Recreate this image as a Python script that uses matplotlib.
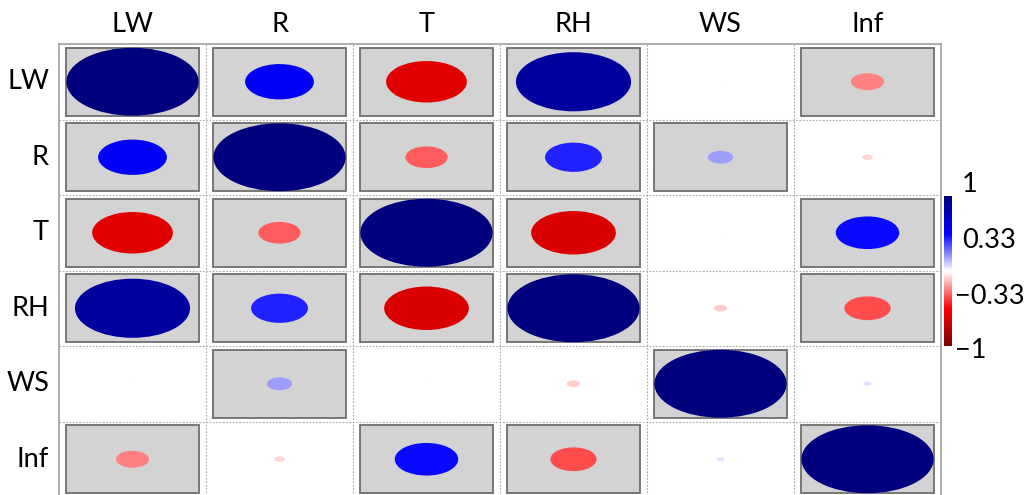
import numpy as np
import matplotlib
matplotlib.use("Agg")
import matplotlib.pyplot as plt
from matplotlib.patches import Ellipse, Rectangle
from matplotlib.colors import LinearSegmentedColormap, Normalize

plt.rcParams['font.family'] = ['Lato', 'DejaVu Sans']

# Variables and their correlation matrix
variables = ["LW", "R", "T", "RH", "WS", "Inf"]
corr = np.array([
    [ 1.00,  0.52, -0.61,  0.87,  0.02, -0.25],
    [ 0.52,  1.00, -0.32,  0.43,  0.19, -0.08],
    [-0.61, -0.32,  1.00, -0.64, -0.02,  0.48],
    [ 0.87,  0.43, -0.64,  1.00, -0.10, -0.35],
    [ 0.02,  0.19, -0.02, -0.10,  1.00,  0.06],
    [-0.25, -0.08,  0.48, -0.35,  0.06,  1.00],
])
# Significant pairs (shaded cells)
significant = np.array([
    [1, 1, 1, 1, 0, 1],
    [1, 1, 1, 1, 1, 0],
    [1, 1, 1, 1, 0, 1],
    [1, 1, 1, 1, 0, 1],
    [0, 1, 0, 0, 1, 0],
    [1, 0, 1, 1, 0, 1],
], dtype=bool)

cbar_ticks = [1, 0.33, -0.33, -1]
cbar_labels = ["1", "0.33", "\u22120.33", "\u22121"]

cmap = LinearSegmentedColormap.from_list(
    "corr", ["#7F0000", "#FF0000", "#FFFFFF", "#0000FF", "#00007F"])
norm = Normalize(-1, 1)

W, H = 1030, 495
fig = plt.figure(figsize=(W / 100, H / 100), dpi=100)
FS = 19.5

# grid area in pixels
x0, x1 = 59, 941
y0, y1 = 44, 497
ax = fig.add_axes([x0 / W, 1 - y1 / H, (x1 - x0) / W, (y1 - y0) / H])
n = len(variables)
ax.set_xlim(0, n)
ax.set_ylim(n, 0)
ax.set_xticks([])
ax.set_yticks([])
for s in ax.spines.values():
    s.set_color("#A0A0A0")
    s.set_linewidth(1.2)

# dotted cell separators
for k in range(1, n):
    ax.axvline(k, color="#A8A8A8", lw=0.8, ls=(0, (1.5, 1.5)), zorder=1)
    ax.axhline(k, color="#A8A8A8", lw=0.8, ls=(0, (1.5, 1.5)), zorder=1)

box = 0.9
for i in range(n):
    for j in range(n):
        cx, cy = j + 0.5, i + 0.5
        if significant[i, j]:
            ax.add_patch(Rectangle((cx - box / 2, cy - box / 2), box, box,
                                   facecolor="#D3D3D3", edgecolor="#6E6E6E",
                                   lw=1.3, zorder=2))
        r = corr[i, j]
        d = box * abs(r)
        ax.add_patch(Ellipse((cx, cy), d, d, facecolor=cmap(norm(r)),
                             edgecolor="none", zorder=3))

# axis labels
for j, name in enumerate(variables):
    fx = (x0 + (j + 0.5) * (x1 - x0) / n) / W
    fig.text(fx, 1 - 24 / H, name, ha="center", va="center", fontsize=FS)
for i, name in enumerate(variables):
    fy = 1 - (y0 + (i + 0.5) * (y1 - y0) / n) / H
    fig.text(49 / W, fy, name, ha="right", va="center", fontsize=FS)

# colour legend
cb_x0, cb_x1, cb_y0, cb_y1 = 944, 952, 196, 346
cax = fig.add_axes([cb_x0 / W, 1 - cb_y1 / H, (cb_x1 - cb_x0) / W, (cb_y1 - cb_y0) / H])
grad = np.linspace(-1, 1, 256).reshape(-1, 1)
cax.imshow(grad, cmap=cmap, norm=norm, aspect="auto", origin="lower",
           extent=[0, 1, -1, 1])
cax.set_axis_off()
label_y = {1: 185, 0.33: 240, -0.33: 297, -1: 350}
for t, lab in zip(cbar_ticks, cbar_labels):
    xl = 962 if t > 0 else 955
    fig.text(xl / W, 1 - label_y[t] / H, lab, ha="left", va="center", fontsize=FS)

fig.savefig("out.png", dpi=100)
